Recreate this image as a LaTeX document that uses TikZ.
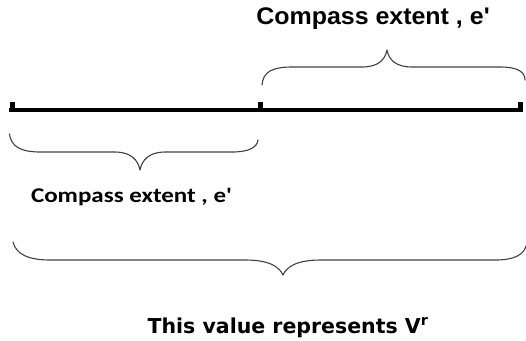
\documentclass[tikz,border=0pt]{standalone}
\usepackage{fontspec}
\newfontfamily\arialbold{Liberation Sans}[BoldFont={* Bold}]
\newfontfamily\calibribold{Carlito}
\newfontfamily\verdanabold{DejaVu Sans}
\begin{document}
\begin{tikzpicture}[x=1pt,y=-1pt,
  axis/.style={line width=4pt},
  tickmark/.style={line width=5pt},
  bracecurve/.style={line width=1.1pt,draw=black!75,line cap=round,line join=round},
  label/.style={anchor=base,inner sep=0pt,text=black}]
\useasboundingbox (0,0) rectangle (526,340);

% measuring line with three tick marks
\coordinate (a) at (9,110);
\coordinate (m) at (260.5,110);
\coordinate (b) at (523,110);
\draw[axis] (a) -- (b);
\draw[tickmark] (12,110) -- (12,102);
\draw[tickmark] (m) -- (260.5,102);
\draw[tickmark] (520.5,110) -- (520.5,102);

% upper brace over the right half
\draw[bracecurve] (262,85) .. controls (263,72) and (272,67) .. (292,67)
  -- (362,67) .. controls (378,67) and (385,60) .. (387,50)
  .. controls (389,60) and (396,67) .. (412,67)
  -- (500,67) .. controls (518,67) and (525,72) .. (525,80);

% lower brace under the left half
\draw[bracecurve] (9.5,134) .. controls (11,146) and (20,152) .. (40,152)
  -- (115,152) .. controls (131,152) and (138,160) .. (140,170)
  .. controls (142,160) and (149,152) .. (165,152)
  -- (232,152) .. controls (248,152) and (257,148) .. (258,140);

% long brace under the whole line
\draw[bracecurve] (13,242) .. controls (16,254) and (28,260) .. (50,260)
  -- (245,260) .. controls (268,260) and (279,266) .. (283,275)
  .. controls (287,266) and (298,260) .. (321,260)
  -- (496,260) .. controls (515,260) and (524,254) .. (526,246);

% labels
\node[label] (t1) at (373,24) {\scalebox{1.04}[1]{\fontsize{24}{28}\selectfont\arialbold\bfseries Compass extent , e'}};
\node[label] (t2) at (131.5,202) {\scalebox{1.19}[1]{\fontsize{21}{25}\selectfont\calibribold\bfseries Compass extent , e'}};
\node[label] (t3) at (288,333) {\fontsize{20.5}{24}\selectfont\verdanabold\bfseries This value represents V\textsuperscript{r}};
\end{tikzpicture}
\end{document}
